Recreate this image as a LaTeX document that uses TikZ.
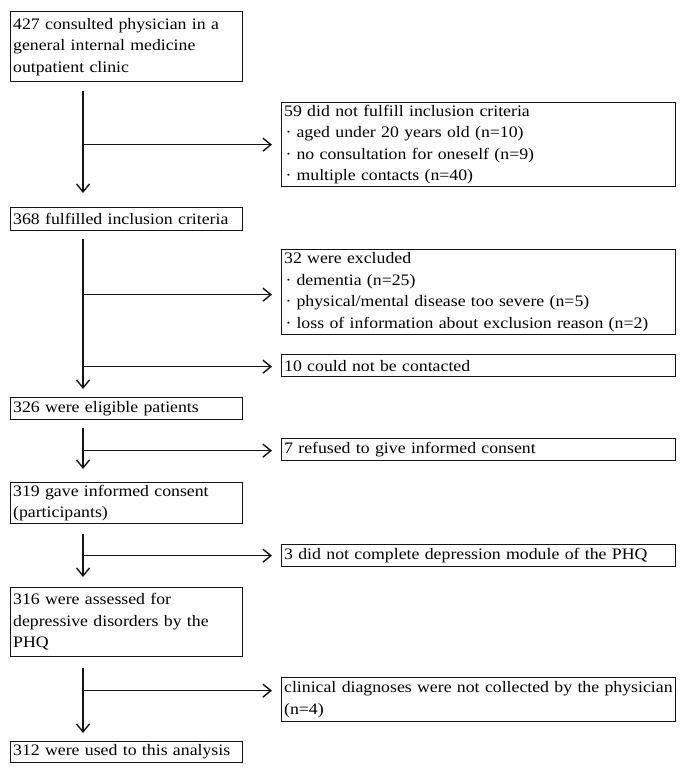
\documentclass[tikz,border=0pt]{standalone}
\usepackage{fontspec}
\setmainfont[FakeStretch=1.11]{Liberation Serif}
\usepackage{tikz}
\usetikzlibrary{positioning,arrows.meta,calc}
\definecolor{cLine}{HTML}{141414}
\tikzset{
  flow/box/.style ={draw=cLine, line width=1.3pt, anchor=north west,
                    inner xsep=2.5pt, inner ysep=1pt, align=left,
                    font=\fontsize{16}{21.5}\selectfont},
  flow/main/.style={flow/box, text width=227pt},
  flow/side/.style={flow/box, text width=389pt},
  flow/arr/.style ={-{Straight Barb[length=8pt, width=13pt]}, line width=1.4pt, cLine}
}
\newcommand{\dotitem}{\hspace{1.5pt}·\hspace{5pt}}

\begin{document}
\begin{tikzpicture}[x=1pt, y=-1pt]
    \useasboundingbox (0,0) rectangle (685,772);
    % main column
    \node[flow/main, minimum height=70pt] (b1) at (10,11)
         {427 consulted physician in a\\general internal medicine\\outpatient clinic};
    \node[flow/main, minimum height=23pt] (b2) at (10,207) {368 fulfilled inclusion criteria};
    \node[flow/main, minimum height=22pt] (b3) at (10,397) {326 were eligible patients};
    \node[flow/main, minimum height=41pt] (b4) at (10,482)
         {319 gave informed consent\\(participants)};
    \node[flow/main, minimum height=69pt] (b5) at (10,587)
         {316 were assessed for\\depressive disorders by the\\PHQ};
    \node[flow/main, minimum height=21pt] (b6) at (10,741) {312 were used to this analysis};
    % excluded side boxes
    \node[flow/side, minimum height=84pt] (r1) at (281,102)
         {59 did not fulfill inclusion criteria\\
          \dotitem aged under 20 years old (n=10)\\
          \dotitem no consultation for oneself (n=9)\\
          \dotitem multiple contacts (n=40)};
    \node[flow/side, minimum height=85pt] (r2) at (281,249)
         {32 were excluded\\
          \dotitem dementia (n=25)\\
          \dotitem physical/mental disease too severe (n=5)\\
          \dotitem loss of information about exclusion reason (n=2)};
    \node[flow/side, minimum height=22pt] (r3) at (281,354) {10 could not be contacted};
    \node[flow/side, minimum height=22pt] (r4) at (281,438) {7 refused to give informed consent};
    \node[flow/side, minimum height=22pt] (r5) at (281,544) {3 did not complete depression module of the PHQ};
    \node[flow/side, minimum height=44pt] (r6) at (281,677)
         {clinical diagnoses were not collected by the physician\\(n=4)};
    % trunk arrows
    \coordinate (trunk) at (83,0);
    \foreach \a/\b/\ga/\gb in {b1/b2/9/14, b2/b3/8/8, b3/b4/8/13, b4/b5/10/10, b5/b6/11/8} {
      \draw[flow/arr] ($(\a.south -| trunk)+(0,\ga)$) -- ($(\b.north -| trunk)-(0,\gb)$);
    }
    % branch arrows
    \foreach \r/\dy in {r1/0, r2/2.5, r3/1, r4/1, r5/0, r6/-9} {
      \coordinate (\r-tip) at ($(\r.west)+(-9,\dy)$);
      \draw[flow/arr] (trunk |- \r-tip) -- (\r-tip);
    }
\end{tikzpicture}
\end{document}
